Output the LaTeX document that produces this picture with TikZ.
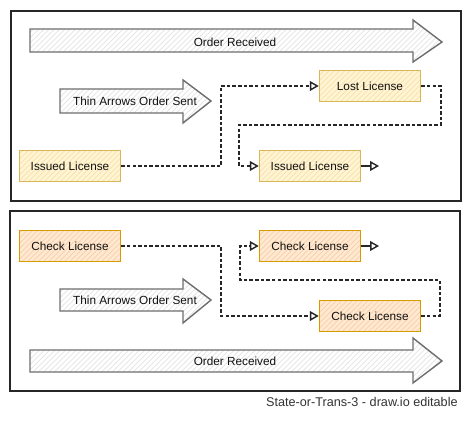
\documentclass[tikz,border=0pt]{standalone}
\usepackage{fontspec}
\setmainfont{Liberation Sans}
\usetikzlibrary{arrows.meta,patterns}
\definecolor{SLine}{HTML}{6E6E6E}
\definecolor{SHatch}{HTML}{E4E4E4}
\definecolor{SText}{HTML}{111111}
\definecolor{YFill}{HTML}{FFF4D4}
\definecolor{YHatch}{HTML}{F7E2A8}
\definecolor{YLine}{HTML}{D6B656}
\definecolor{OFill}{HTML}{FFE9D2}
\definecolor{OHatch}{HTML}{F9CFA6}
\definecolor{OLine}{HTML}{D79B00}
\tikzset{
  frame/.style={draw=black!85,line width=1.1pt},
  blockarrow/.style={draw=SLine,line width=.8pt,preaction={fill=white},
    pattern=north east lines,pattern color=SHatch},
  label/.style={text=SText,font=\fontsize{6.7pt}{8pt}\selectfont,inner sep=0pt},
  statebox/.style={label,minimum width=2.02cm,minimum height=.62cm,line width=.9pt},
  yellowbox/.style={statebox,draw=YLine,preaction={fill=YFill},
    pattern=north east lines,pattern color=YHatch},
  orangebox/.style={statebox,draw=OLine,preaction={fill=OFill},
    pattern=north east lines,pattern color=OHatch},
  flow/.style={draw=black!85,line width=.8pt,dash pattern=on 2pt off 1.2pt,
    -{Triangle[open,length=5pt,width=5.5pt]}},
  exit/.style={draw=black!85,line width=.8pt,-{Triangle[open,length=5pt,width=5.5pt]}}
}

\begin{document}
\begin{tikzpicture}[x=0.02cm,y=-0.02cm]
\path[use as bounding box] (0,0) rectangle (471,421);
\fill[white] (0,0) rectangle (471,421);

\draw[frame] (11,11) rectangle (461,201);
\draw[frame] (10,211) rectangle (460,391);

\draw[blockarrow] (30,29) -- (413,29) -- (413,20) -- (442,42) -- (413,62) -- (413,52) -- (30,52) -- cycle;
\node[label] (recvtop) at (235,42) {Order Received};
\draw[blockarrow] (60,89) -- (183,89) -- (183,80) -- (211,101) -- (183,123) -- (183,113) -- (60,113) -- cycle;
\node[label] (senttop) at (135,101) {Thin Arrows Order Sent};

\node[yellowbox] (issA) at (70,166) {Issued License};
\node[yellowbox] (lost) at (370,86) {Lost License};
\node[yellowbox] (issB) at (310,166) {Issued License};

\coordinate (t1) at (221,86);
\coordinate (t2) at (441,125);
\coordinate (t3) at (239,125);
\coordinate (t4) at (379,166);
\draw[flow] (issA.east) -| (t1) -- (lost.west);
\draw[flow] (lost.east) -| (t2) -- (t3) |- (issB.west);
\draw[exit] (issB.east) -- (t4);

\draw[blockarrow] (60,289) -- (183,289) -- (183,279) -- (211,300) -- (183,323) -- (183,311) -- (60,311) -- cycle;
\node[label] (sentbot) at (135,300) {Thin Arrows Order Sent};
\draw[blockarrow] (30,350) -- (413,350) -- (413,338) -- (442,361) -- (413,383) -- (413,372) -- (30,372) -- cycle;
\node[label] (recvbot) at (235,361) {Order Received};

\node[orangebox] (chkA) at (70,246) {Check License};
\node[orangebox] (chkB) at (310,246) {Check License};
\node[orangebox] (chkC) at (370,316) {Check License};

\coordinate (b1) at (221,316);
\coordinate (b2) at (440,280);
\coordinate (b3) at (240,280);
\coordinate (b4) at (379,246);
\draw[flow] (chkA.east) -| (b1) -- (chkC.west);
\draw[flow] (chkC.east) -| (b2) -- (b3) |- (chkB.west);
\draw[exit] (chkB.east) -- (b4);

\node[anchor=east,inner sep=0pt,text=black!80,font=\fontsize{7.2pt}{8pt}\selectfont] (caption) at (458,402) {State-or-Trans-3 - draw.io editable};
\end{tikzpicture}
\end{document}
